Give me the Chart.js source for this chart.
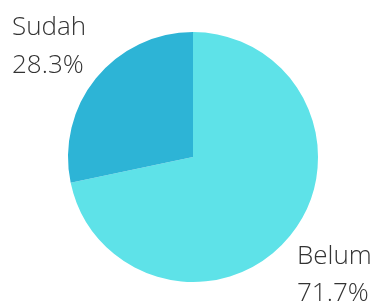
<!DOCTYPE html>
<html><head><meta charset="utf-8">
<script src="https://cdn.jsdelivr.net/npm/chart.js@4/dist/chart.umd.min.js"></script>
<style>html,body{margin:0;padding:0;background:#fff}#c{display:block}</style>
</head><body>
<canvas id="c" width="373" height="305"></canvas>
<script>
const categories = ["Belum", "Sudah"];
const values = [71.7, 28.3];
const colors = ["#5ee2e8", "#2db4d6"];

const labelPlugin = {
  id: 'outsideLabels',
  afterDraw(chart) {
    const ctx = chart.ctx;
    ctx.save();
    ctx.fillStyle = '#333';
    ctx.font = '300 26px "Open Sans", sans-serif';
    ctx.textBaseline = 'alphabetic';
    ctx.textAlign = 'left';
    ctx.fillText(categories[1], 12, 35);
    ctx.fillText(values[1].toFixed(1) + '%', 12, 73);
    ctx.fillText(categories[0], 297, 264);
    ctx.fillText(values[0].toFixed(1) + '%', 297, 301);
    ctx.restore();
  }
};

new Chart(document.getElementById('c'), {
  type: 'pie',
  data: { labels: categories, datasets: [{ data: values, backgroundColor: colors, borderWidth: 0 }] },
  options: {
    responsive: false,
    animation: false,
    layout: { padding: { left: 68, right: 55, top: 32, bottom: 23 } },
    plugins: { legend: { display: false }, tooltip: { enabled: false } }
  },
  plugins: [labelPlugin]
});
</script>
</body></html>
